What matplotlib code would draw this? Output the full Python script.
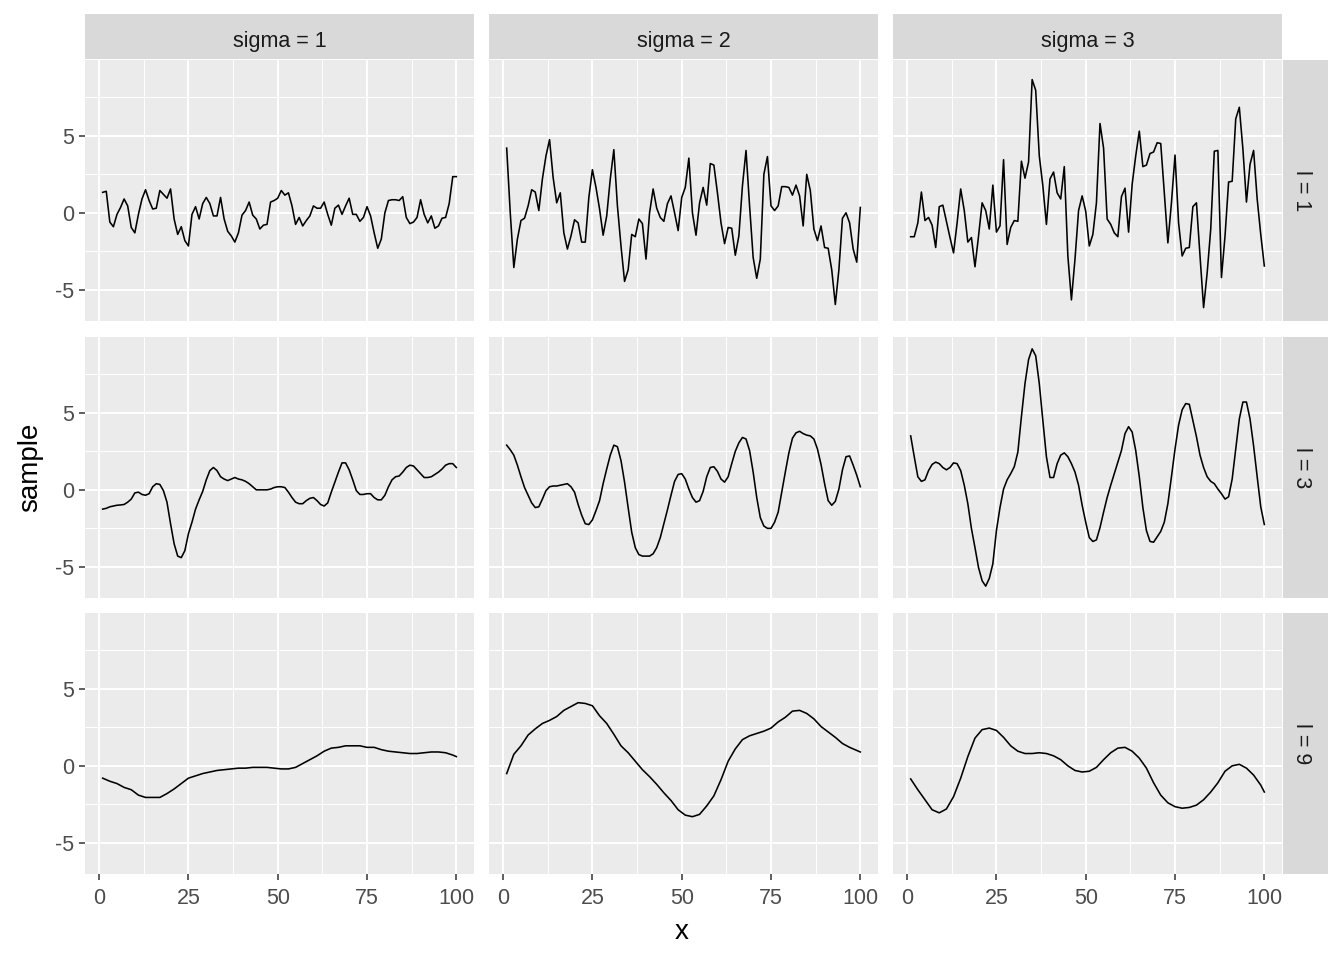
import matplotlib
matplotlib.use("Agg")
import matplotlib.pyplot as plt
from matplotlib.ticker import MultipleLocator

plt.rcParams['font.family'] = ['Liberation Sans', 'DejaVu Sans']
plt.rcParams['axes.unicode_minus'] = False

sigmas = [1, 2, 3]
ls = [1, 3, 9]

# x positions of the samples
x_all = list(range(1, 101))
x_smooth = list(range(1, 100, 2)) + [100]

# l = 1
s1_l1 = [1.33, 1.4, -0.6, -0.9, -0.1, 0.35, 0.9, 0.45, -0.95, -1.3,
         -0.1, 0.9, 1.5, 0.8, 0.25, 0.3, 1.45, 1.2, 0.95, 1.55,
         -0.4, -1.4, -0.9, -1.8, -2.15, -0.1, 0.4, -0.4, 0.6, 1.0,
         0.6, -0.2, -0.2, 1.0, -0.4, -1.2, -1.5, -1.9, -1.3, -0.15,
         0.15, 0.7, -0.15, -0.4, -1.05, -0.8, -0.75, 0.7, 0.8, 0.95,
         1.45, 1.15, 1.3, 0.45, -0.75, -0.3, -0.85, -0.5, -0.2, 0.45,
         0.3, 0.3, 0.7, -0.1, -0.8, 0.3, 0.5, -0.1, 0.45, 0.95,
         -0.1, -0.1, -0.55, -0.3, 0.4, -0.2, -1.3, -2.3, -1.7, 0.0,
         0.8, 0.85, 0.85, 0.8, 1.05, -0.3, -0.7, -0.6, -0.3, 0.85,
         -0.1, -0.65, -0.2, -1.0, -0.85, -0.35, -0.3, 0.6, 2.35, 2.35]
s2_l1 = [4.2, 0.0, -3.55, -1.7, -0.5, -0.35, 0.45, 1.5, 1.35, 0.15,
         2.2, 3.7, 4.75, 2.3, 0.65, 1.3, -1.3, -2.35, -1.5, -0.45,
         -0.65, -1.9, -1.9, 1.0, 2.8, 1.65, 0.25, -1.45, -0.2, 2.2,
         4.1, 0.45, -2.15, -4.45, -3.7, -1.4, -1.55, -0.4, -0.7, -3.0,
         0.0, 1.55, 0.3, -0.3, -0.55, 0.6, 1.1, 0.0, -1.15, 1.0,
         1.65, 3.55, 0.0, -1.45, 0.65, 1.65, 0.5, 3.2, 3.1, 1.3,
         -0.65, -2.0, -0.95, -1.0, -2.75, -1.5, 1.75, 4.05, 0.45, -2.9,
         -4.25, -3.0, 2.5, 3.65, 0.45, 0.15, 0.45, 1.7, 1.7, 1.65,
         1.15, 1.8, 1.1, -0.85, 2.5, 1.45, -1.05, -1.8, -0.85, -2.25,
         -2.3, -3.7, -5.95, -3.7, -0.35, 0.0, -0.65, -2.35, -3.2, 0.35]
s3_l1 = [-1.55, -1.55, -0.65, 1.35, -0.5, -0.3, -0.8, -2.25, 0.4, 0.5,
         -0.55, -1.6, -2.6, -0.65, 1.55, 0.15, -1.9, -1.6, -3.5, -1.5,
         0.65, 0.15, -1.05, 1.8, -1.25, -0.85, 3.45, -2.05, -0.95, -0.5,
         -0.55, 3.35, 2.25, 3.3, 8.65, 7.95, 3.7, 1.75, -0.75, 2.2,
         2.65, 1.3, 0.9, 3.0, -2.8, -5.65, -3.0, 0.15, 1.1, 0.1,
         -2.15, -1.4, 0.65, 5.8, 4.2, -0.4, -0.75, -1.3, -1.55, 1.05,
         1.6, -1.25, 1.85, 3.7, 5.3, 3.0, 3.1, 3.85, 3.95, 4.55,
         4.5, 1.3, -1.95, 0.65, 3.75, -0.65, -2.8, -2.3, -2.25, 0.4,
         0.65, -2.8, -6.15, -3.9, -1.05, 4.0, 4.05, -4.2, -1.5, 2.0,
         2.05, 6.1, 6.85, 4.15, 0.7, 3.15, 4.05, 0.9, -1.4, -3.45]

# l = 3
s1_l3 = [-1.25, -1.2, -1.1, -1.05, -1.0, -0.98, -0.95, -0.8, -0.6, -0.2,
         -0.15, -0.3, -0.35, -0.25, 0.2, 0.4, 0.35, -0.05, -0.8, -2.2,
         -3.5, -4.3, -4.4, -3.95, -2.85, -2.1, -1.25, -0.65, -0.1, 0.65,
         1.25, 1.45, 1.25, 0.85, 0.7, 0.6, 0.7, 0.8, 0.7, 0.65,
         0.55, 0.4, 0.2, 0.0, 0.0, 0.0, 0.0, 0.05, 0.15, 0.2,
         0.2, 0.15, -0.15, -0.5, -0.8, -0.9, -0.9, -0.7, -0.55, -0.5,
         -0.7, -0.95, -1.05, -0.85, -0.15, 0.5, 1.15, 1.75, 1.75, 1.3,
         0.65, -0.05, -0.3, -0.3, -0.25, -0.25, -0.5, -0.65, -0.65, -0.35,
         0.2, 0.65, 0.85, 0.9, 1.15, 1.45, 1.6, 1.55, 1.3, 1.05,
         0.8, 0.8, 0.85, 1.0, 1.15, 1.35, 1.6, 1.7, 1.7, 1.45]
s2_l3 = [2.9, 2.6, 2.25, 1.6, 0.85, 0.15, -0.35, -0.85, -1.15, -1.1,
         -0.6, -0.05, 0.2, 0.25, 0.25, 0.3, 0.35, 0.4, 0.2, -0.15,
         -0.95, -1.65, -2.2, -2.25, -1.95, -1.35, -0.7, 0.4, 1.35, 2.25,
         2.9, 2.8, 1.9, 0.5, -1.15, -2.75, -3.75, -4.2, -4.3, -4.3,
         -4.3, -4.15, -3.75, -3.1, -2.2, -1.3, -0.35, 0.55, 1.0, 1.05,
         0.7, 0.05, -0.5, -0.8, -0.7, -0.1, 0.85, 1.45, 1.5, 1.2,
         0.7, 0.5, 0.85, 1.7, 2.5, 3.05, 3.4, 3.3, 2.55, 1.15,
         -0.5, -1.8, -2.35, -2.5, -2.5, -2.1, -1.45, -0.15, 1.15, 2.4,
         3.35, 3.7, 3.8, 3.65, 3.55, 3.5, 3.3, 2.65, 1.65, 0.4,
         -0.7, -1.0, -0.75, 0.05, 1.3, 2.15, 2.2, 1.6, 0.95, 0.2]
s3_l3 = [3.5, 2.15, 0.85, 0.55, 0.65, 1.25, 1.65, 1.8, 1.7, 1.45,
         1.3, 1.45, 1.75, 1.7, 1.25, 0.3, -0.9, -2.5, -3.75, -5.05,
         -5.9, -6.25, -5.75, -4.8, -2.65, -1.15, 0.05, 0.65, 1.05, 1.5,
         2.45, 4.75, 6.9, 8.45, 9.15, 8.7, 6.9, 4.5, 2.15, 0.8,
         0.8, 1.7, 2.25, 2.4, 2.15, 1.7, 1.15, 0.3, -1.0, -2.1,
         -3.1, -3.35, -3.25, -2.45, -1.45, -0.5, 0.3, 1.05, 1.8, 2.55,
         3.65, 4.1, 3.75, 2.55, 0.85, -1.15, -2.65, -3.35, -3.4, -3.05,
         -2.7, -2.1, -0.9, 0.85, 2.65, 4.2, 5.2, 5.6, 5.55, 4.5,
         3.45, 2.25, 1.45, 0.85, 0.55, 0.4, 0.05, -0.25, -0.6, -0.45,
         0.7, 2.65, 4.6, 5.7, 5.7, 4.6, 2.85, 0.85, -1.1, -2.25]

# l = 9 (smooth, read every other x)
s1_l9 = [-0.8, -1.0, -1.15, -1.4, -1.55, -1.9, -2.05, -2.05, -2.05, -1.8,
         -1.5, -1.15, -0.8, -0.65, -0.5, -0.4, -0.3, -0.25, -0.2, -0.15,
         -0.15, -0.1, -0.1, -0.1, -0.15, -0.2, -0.2, -0.1, 0.15, 0.4,
         0.65, 0.95, 1.15, 1.2, 1.3, 1.3, 1.3, 1.2, 1.2, 1.05,
         0.95, 0.9, 0.85, 0.8, 0.8, 0.85, 0.9, 0.9, 0.85, 0.7, 0.6]
s2_l9 = [-0.5, 0.75, 1.3, 2.0, 2.4, 2.75, 2.95, 3.2, 3.6, 3.85,
         4.1, 4.05, 3.9, 3.25, 2.75, 2.05, 1.3, 0.85, 0.3, -0.25,
         -0.7, -1.2, -1.75, -2.25, -2.85, -3.2, -3.3, -3.15, -2.6, -1.95,
         -0.9, 0.3, 1.1, 1.7, 1.95, 2.1, 2.25, 2.45, 2.85, 3.15,
         3.55, 3.6, 3.4, 3.05, 2.55, 2.2, 1.85, 1.45, 1.2, 1.0, 0.9]
s3_l9 = [-0.85, -1.55, -2.2, -2.85, -3.05, -2.8, -2.0, -0.8, 0.6, 1.8,
         2.35, 2.45, 2.3, 1.85, 1.3, 0.95, 0.8, 0.8, 0.85, 0.8,
         0.65, 0.4, 0.0, -0.3, -0.4, -0.35, -0.1, 0.4, 0.85, 1.15,
         1.2, 0.95, 0.5, -0.15, -1.1, -1.9, -2.4, -2.65, -2.75, -2.7,
         -2.55, -2.2, -1.7, -1.1, -0.35, 0.0, 0.1, -0.15, -0.6, -1.25, -1.7]

panels = {
    (1, 1): (x_all, s1_l1), (1, 2): (x_all, s2_l1), (1, 3): (x_all, s3_l1),
    (3, 1): (x_all, s1_l3), (3, 2): (x_all, s2_l3), (3, 3): (x_all, s3_l3),
    (9, 1): (x_smooth, s1_l9), (9, 2): (x_smooth, s2_l9), (9, 3): (x_smooth, s3_l9),
}

all_y = s1_l1 + s2_l1 + s3_l1 + s1_l3 + s2_l3 + s3_l3 + s1_l9 + s2_l9 + s3_l9
ymin, ymax = min(all_y), max(all_y)
ypad = 0.05 * (ymax - ymin)
xpad = 0.05 * 99

W, H = 1344, 960
fig = plt.figure(figsize=(W / 100, H / 100), dpi=100)

col_left = [85, 489, 893]
row_top = [60, 337, 613]
pw, ph = 389, 261
strip = 45

bg = '#EBEBEB'
strip_col = '#D9D9D9'
tick_col = '#4D4D4D'

for r, l in enumerate(ls):
    for c, s in enumerate(sigmas):
        x0, y0 = col_left[c], row_top[r]
        ax = fig.add_axes([x0 / W, 1 - (y0 + ph) / H, pw / W, ph / H])
        ax.set_facecolor(bg)
        xs, ys = panels[(l, c + 1)]
        ax.plot(xs, ys, color='black', lw=1.15, zorder=3)
        ax.set_xlim(1 - xpad, 100 + xpad)
        ax.set_ylim(ymin - ypad, ymax + ypad)
        ax.xaxis.set_major_locator(MultipleLocator(25))
        ax.xaxis.set_minor_locator(MultipleLocator(12.5))
        ax.yaxis.set_major_locator(MultipleLocator(5))
        ax.yaxis.set_minor_locator(MultipleLocator(2.5))
        ax.grid(which='major', color='white', lw=1.4)
        ax.grid(which='minor', color='white', lw=0.7)
        ax.set_axisbelow(True)
        for sp in ax.spines.values():
            sp.set_visible(False)
        ax.tick_params(which='minor', length=0)
        ax.tick_params(which='major', length=4, width=1.1, color='#333333',
                       labelsize=15.5, labelcolor=tick_col, pad=4)
        ax.tick_params(axis='x', which='major', pad=6)
        if c != 0:
            ax.tick_params(axis='y', which='major', length=0, labelleft=False)
        if r != 2:
            ax.tick_params(axis='x', which='major', length=0, labelbottom=False)

        # top strips
        if r == 0:
            sax = fig.add_axes([x0 / W, 1 - (y0 - 1) / H, pw / W, strip / H])
            sax.set_facecolor(strip_col)
            sax.set_xticks([])
            sax.set_yticks([])
            for sp in sax.spines.values():
                sp.set_visible(False)
            sax.text(0.5, 0.4, f'sigma = {s}', ha='center', va='center',
                     fontsize=15.5, color='#1A1A1A', transform=sax.transAxes)
        # right strips
        if c == 2:
            rax = fig.add_axes([(x0 + pw + 1) / W, 1 - (y0 + ph) / H, strip / W, ph / H])
            rax.set_facecolor(strip_col)
            rax.set_xticks([])
            rax.set_yticks([])
            for sp in rax.spines.values():
                sp.set_visible(False)
            rax.text(0.42, 0.5, f'l = {l}', ha='center', va='center', rotation=-90,
                     fontsize=15.5, color='#1A1A1A', transform=rax.transAxes)

fig.text(682 / W, 1 - 932 / H, 'x', ha='center', va='center', fontsize=20)
fig.text(30 / W, 1 - 467 / H, 'sample', ha='center', va='center',
         rotation=90, fontsize=20)

fig.savefig('out.png', dpi=100)
